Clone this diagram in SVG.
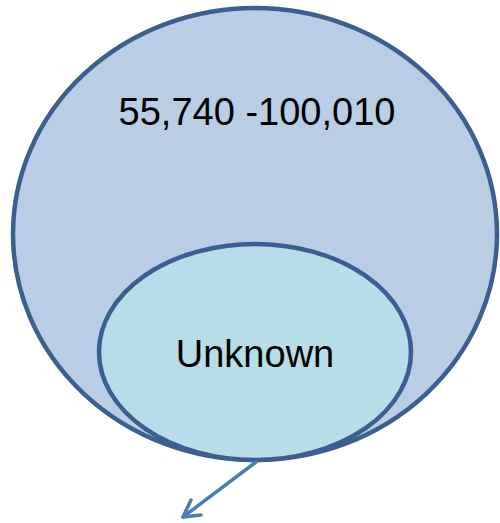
<svg xmlns="http://www.w3.org/2000/svg" width="500" height="523" viewBox="0 0 500 523">
<defs>
<style>
.ell{stroke:#3b5f8f;stroke-width:4.5}
.lbl{font-family:"Liberation Sans",Arial,sans-serif;font-size:38px;fill:#000;text-anchor:middle}
.conn{stroke:#4a7ebb;stroke-width:3.5;fill:none;stroke-linecap:round;stroke-linejoin:round}
</style>
<marker id="arr" viewBox="0 0 12 12" refX="10" refY="6" markerWidth="6" markerHeight="6" markerUnits="userSpaceOnUse" orient="auto" overflow="visible">
</marker>
</defs>
<rect width="500" height="523" fill="#fff"/>
<g id="outer">
<ellipse class="ell" cx="255" cy="234" rx="242" ry="226" fill="#b9cde5"/>
<text class="lbl" x="257" y="125">55,740 -100,010</text>
</g>
<g id="inner">
<ellipse class="ell" cx="255" cy="352" rx="156" ry="108" fill="#b7dde8"/>
<text class="lbl" x="255" y="367">Unknown</text>
</g>
<g id="connectors">
<line class="conn" x1="256" y1="462" x2="183" y2="517"/>
<polyline class="conn" points="191,500 183,517 201,515"/>
</g>
</svg>
